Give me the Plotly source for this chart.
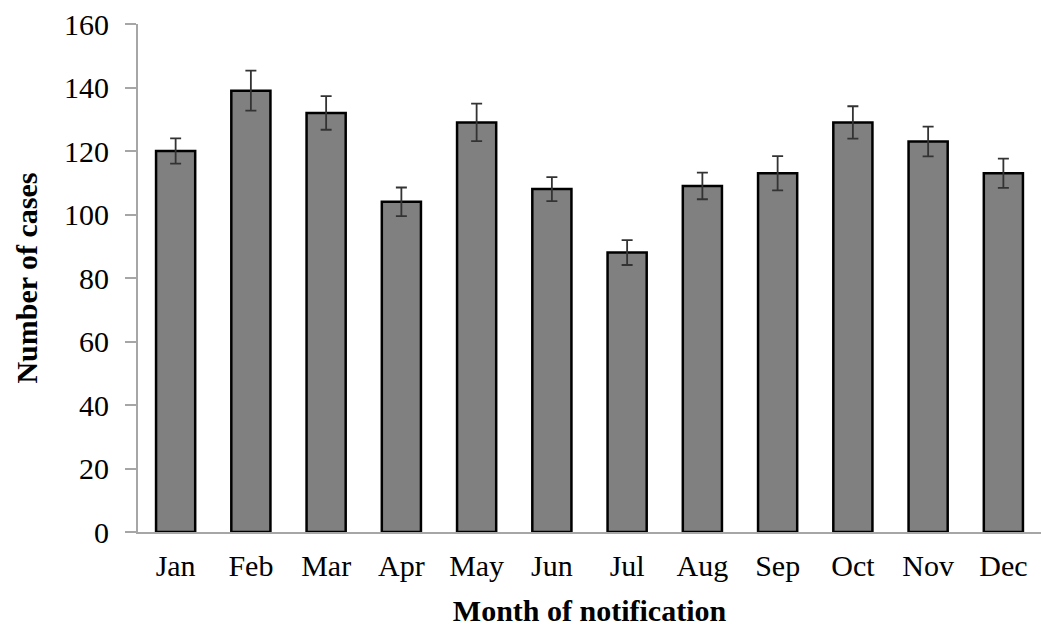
import plotly.graph_objects as go

months = ["Jan", "Feb", "Mar", "Apr", "May", "Jun", "Jul", "Aug", "Sep", "Oct", "Nov", "Dec"]
cases = [120, 139, 132, 104, 129, 108, 88, 109, 113, 129, 123, 113]
errors = [4.0, 6.3, 5.3, 4.5, 5.9, 3.8, 3.9, 4.2, 5.4, 5.1, 4.7, 4.6]
y_ticks = [0, 20, 40, 60, 80, 100, 120, 140, 160]

font_family = "Liberation Serif, Times New Roman, serif"

fig = go.Figure(
    go.Bar(
        x=months,
        y=cases,
        marker=dict(color="#808080", line=dict(color="#000000", width=2.5)),
        error_y=dict(type="data", array=errors, visible=True,
                     color="#333333", thickness=1.8, width=5.5),
    )
)

fig.update_layout(
    width=1041,
    height=627,
    margin=dict(l=138, r=0, t=24, b=95),
    paper_bgcolor="white",
    plot_bgcolor="white",
    bargap=0.48,
    showlegend=False,
    font=dict(family=font_family, color="#000000", size=31),
    xaxis=dict(
        showline=True, linecolor="#a6a6a6", linewidth=2,
        ticks="", tickfont=dict(size=30, family=font_family), ticklabelstandoff=6,
        title=dict(text="<b>Month of notification</b>", font=dict(size=30, family=font_family), standoff=22),
        showgrid=False,
    ),
    yaxis=dict(
        range=[0, 160], tickvals=y_ticks, showline=True, linecolor="#a6a6a6", linewidth=2,
        ticks="outside", ticklen=11, tickcolor="#a6a6a6", tickwidth=2,
        tickfont=dict(size=30, family=font_family), ticklabelstandoff=10,
        title=dict(text="<b>Number of cases</b>", font=dict(size=30, family=font_family), standoff=18),
        showgrid=False, zeroline=False,
    ),
)

fig.write_html("out.html", config={"displayModeBar": False},
               post_script="document.body.style.margin='0';")
